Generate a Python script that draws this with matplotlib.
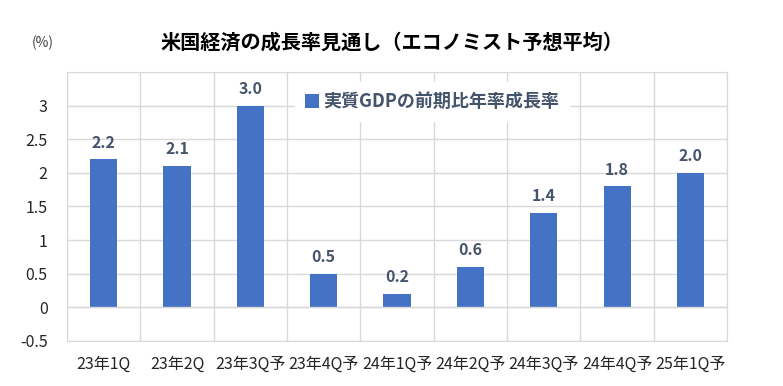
import matplotlib.pyplot as plt
import numpy as np

plt.rcParams['font.family'] = ['Noto Sans CJK JP', 'DejaVu Sans']

quarters = ['23年1Q', '23年2Q', '23年3Q予', '23年4Q予', '24年1Q予',
            '24年2Q予', '24年3Q予', '24年4Q予', '25年1Q予']
growth = [2.2, 2.1, 3.0, 0.5, 0.2, 0.6, 1.4, 1.8, 2.0]
yticks = [-0.5, 0, 0.5, 1, 1.5, 2, 2.5, 3]

bar_color = '#4472C4'
label_color = '#44546A'
grid_color = '#D9D9D9'

fig = plt.figure(figsize=(7.83, 3.86), dpi=100)
ax = fig.add_axes([0.0856, 0.1166, 0.843, 0.697])

x = np.arange(len(quarters))
bars = ax.bar(x, growth, width=0.37, color=bar_color, zorder=2,
              label='実質GDPの前期比年率成長率')
ax.axhline(0, color=grid_color, lw=1, zorder=3)

for xi, v in zip(x, growth):
    ax.text(xi, v + 0.13, f'{v:.1f}', ha='center', va='bottom',
            fontsize=11.5, fontweight='bold', color=label_color)

ax.set_xlim(-0.5, len(quarters) - 0.5)
ax.set_ylim(-0.5, 3.5)
ax.set_yticks(yticks)
ax.set_yticklabels([f'{t:g}' for t in yticks])
ax.set_xticks(x)
ax.set_xticklabels(quarters)

# grid lines: horizontal every 0.5, vertical between categories
for yv in np.arange(-0.5, 3.51, 0.5):
    ax.axhline(yv, color=grid_color, lw=1, zorder=0)
for xv in np.arange(-0.5, len(quarters), 1):
    ax.axvline(xv, color=grid_color, lw=1, zorder=0)

for s in ax.spines.values():
    s.set_color(grid_color)
ax.tick_params(length=0, labelsize=11.5, colors='#262626')
ax.tick_params(axis='x', pad=11)
ax.tick_params(axis='y', pad=14)

leg = ax.legend(loc='upper center', bbox_to_anchor=(0.553, 0.995), frameon=True,
                framealpha=1, edgecolor='white', fancybox=False,
                handlelength=0.75, handleheight=0.75, handletextpad=0.25,
                borderpad=0.55, prop={'weight': 'bold', 'size': 13})
for t in leg.get_texts():
    t.set_color(label_color)
leg.set_zorder(5)

fig.text(0.5, 0.89, '米国経済の成長率見通し（エコノミスト予想平均）',
         ha='center', va='center', fontsize=14.5, fontweight='bold')
fig.text(0.054, 0.89, '(%)', ha='center', va='center', fontsize=10,
         color='#404040')

fig.savefig('out.png', dpi=100)
